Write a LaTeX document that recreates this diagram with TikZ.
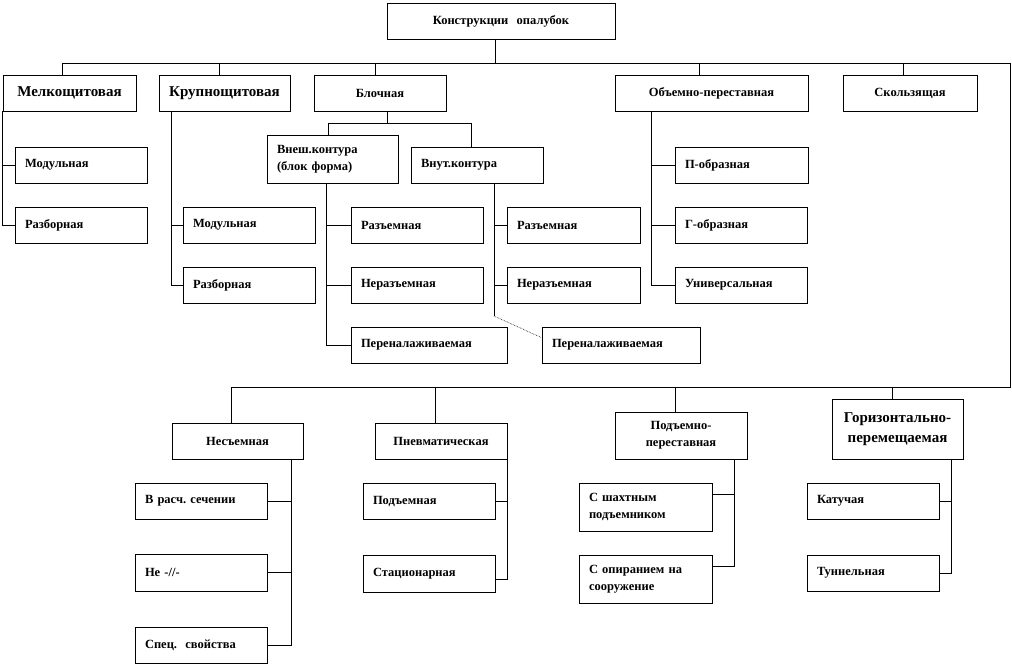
\documentclass[tikz,border=0pt]{standalone}
\usepackage{fontspec}
\setmainfont{Liberation Serif}
\usetikzlibrary{calc}
\frenchspacing
\tikzset{
  bx/.style={draw, line width=0.6pt, inner xsep=10pt, inner ysep=1pt, font=\bfseries\fontsize{12.5}{17}\selectfont},
  cbx/.style={bx, align=center},
  lbx/.style={bx, align=left},
  bigc/.style={bx, align=center, font=\bfseries\fontsize{15}{20}\selectfont},
  ln/.style={line width=0.6pt},
}
\newcommand{\mkbox}[7]{\pgfmathsetmacro{\mkw}{#5-#3-20}\pgfmathsetmacro{\mkh}{#6-#4}\node[#1, text width=\mkw pt, minimum height=\mkh pt] (#2) at ({(#3+#5)/2},{(#4+#6)/2}) {#7};}
\begin{document}
\begin{tikzpicture}[x=1pt,y=-1pt]
\useasboundingbox (0,0) rectangle (1012,666);
% top
\mkbox{cbx}{top}{387}{3}{615}{39}{Конструкции\ \ опалубок}
% row 1
\mkbox{bigc}{melk}{3}{75}{136}{111}{Мелкощитовая}
\mkbox{bigc}{krup}{159}{75}{290}{111}{Крупнощитовая}
\mkbox{cbx}{bloch}{314}{75}{446}{111}{Блочная}
\mkbox{cbx}{obem}{615}{75}{808}{111}{Объемно-переставная}
\mkbox{cbx}{skol}{843}{75}{977}{111}{Скользящая}
% melk children
\mkbox{lbx}{mod1}{15}{147}{147}{183}{Модульная}
\mkbox{lbx}{razb1}{15}{207}{147}{243}{Разборная}
% krup children
\mkbox{lbx}{mod2}{183}{207}{315}{243}{Модульная}
\mkbox{lbx}{razb2}{183}{267}{315}{303}{Разборная}
% bloch children
\mkbox{lbx}{vnesh}{267}{135}{398}{183}{Внеш.контура\\(блок форма)}
\mkbox{lbx}{vnut}{411}{147}{543}{183}{Внут.контура}
\mkbox{lbx}{raz1}{351}{207}{483}{243}{Разъемная}
\mkbox{lbx}{neraz1}{351}{267}{483}{303}{Неразъемная}
\mkbox{lbx}{pere1}{351}{327}{507}{363}{Переналаживаемая}
\mkbox{lbx}{raz2}{507}{207}{640}{243}{Разъемная}
\mkbox{lbx}{neraz2}{507}{267}{640}{303}{Неразъемная}
\mkbox{lbx}{pere2}{542}{327}{700}{363}{Переналаживаемая}
% obem children
\mkbox{lbx}{pobr}{675}{147}{808}{183}{П-образная}
\mkbox{lbx}{gobr}{675}{207}{807}{243}{Г-образная}
\mkbox{lbx}{univ}{675}{267}{807}{303}{Универсальная}
% bottom row
\mkbox{cbx}{nesm}{172}{423}{303}{459}{Несъемная}
\mkbox{cbx}{pnev}{375}{423}{507}{459}{Пневматическая}
\mkbox{cbx}{podp}{615}{412}{747}{459}{Подъемно-\\переставная}
\mkbox{bigc}{gor}{832}{399}{963}{459}{Горизонтально-\\перемещаемая}
% bottom children
\mkbox{lbx}{vrasch}{135}{483}{267}{519}{В расч. сечении}
\mkbox{lbx}{ne}{135}{554}{267}{591}{Не -//-}
\mkbox{lbx}{spec}{135}{627}{267}{663}{Спец.\ \ свойства}
\mkbox{lbx}{podem}{363}{483}{495}{519}{Подъемная}
\mkbox{lbx}{stac}{363}{555}{495}{592}{Стационарная}
\mkbox{lbx}{shakht}{579}{483}{712}{531}{С шахтным\\подъемником}
\mkbox{lbx}{opir}{579}{555}{712}{603}{С опиранием на\\сооружение}
\mkbox{lbx}{katuch}{807}{483}{939}{519}{Катучая}
\mkbox{lbx}{tunn}{807}{555}{939}{591}{Туннельная}
% buses
\coordinate (bl) at (62,63);
\coordinate (br) at (1010,63);
\coordinate (cr) at (1010,387);
\coordinate (cl) at (231,387);
\coordinate (tstem) at (495,39);
\draw[ln] (tstem) -- (tstem |- bl);
\draw[ln] (bl) -- (br) -- (cr) -- (cl);
% drops row 1
\coordinate (d2) at (219,63);
\coordinate (d3) at (375,63);
\coordinate (d4) at (699,63);
\coordinate (d5) at (903,63);
\draw[ln] (bl) -- (bl |- melk.north);
\draw[ln] (d2) -- (d2 |- krup.north);
\draw[ln] (d3) -- (d3 |- bloch.north);
\draw[ln] (d4) -- (d4 |- obem.north);
\draw[ln] (d5) -- (d5 |- skol.north);
% melk
\draw[ln] (melk.south west) |- (razb1.west);
\draw[ln] (melk.south west |- mod1.west) -- (mod1.west);
% krup
\coordinate (kv) at (171,111);
\draw[ln] (kv) |- (razb2.west);
\draw[ln] (kv |- mod2.west) -- (mod2.west);
% bloch
\coordinate (bs) at (387,111);
\coordinate (hl) at (328,123);
\coordinate (hr) at (471,123);
\draw[ln] (bs) -- (bs |- hl);
\draw[ln] (hl |- vnesh.north) -- (hl) -- (hr) -- (hr |- vnut.north);
\coordinate (ev) at (326,183);
\draw[ln] (ev) |- (pere1.west);
\draw[ln] (ev |- raz1.west) -- (raz1.west);
\draw[ln] (ev |- neraz1.west) -- (neraz1.west);
\coordinate (uv) at (494,183);
\coordinate (uk) at (494,316);
\draw[ln] (uv) -- (uk);
\draw[line width=0.6pt, densely dotted] (uk) -- ($(pere2.north west)+(0,11)$);
\draw[ln] (uv |- raz2.west) -- (raz2.west);
\draw[ln] (uv |- neraz2.west) -- (neraz2.west);
% obem
\coordinate (ov) at (651,111);
\draw[ln] (ov) |- (univ.west);
\draw[ln] (ov |- pobr.west) -- (pobr.west);
\draw[ln] (ov |- gobr.west) -- (gobr.west);
% bottom drops
\coordinate (e2) at (435,387);
\coordinate (e3) at (675,387);
\coordinate (e4) at (892,387);
\draw[ln] (cl) -- (cl |- nesm.north);
\draw[ln] (e2) -- (e2 |- pnev.north);
\draw[ln] (e3) -- (e3 |- podp.north);
\draw[ln] (e4) -- (e4 |- gor.north);
% bottom children
\coordinate (nv) at (291,459);
\draw[ln] (nv) |- (spec.east);
\draw[ln] (nv |- vrasch.east) -- (vrasch.east);
\draw[ln] (nv |- ne.east) -- (ne.east);
\coordinate (pv) at (507,459);
\draw[ln] (pv) |- ($(stac.south east)+(0,-13)$);
\draw[ln] (pv |- podem.east) -- (podem.east);
\coordinate (qv) at (734,459);
\draw[ln] (qv) |- ($(opir.north east)+(0,12)$);
\coordinate (sh) at ($(shakht.north east)+(0,12)$);
\draw[ln] (qv |- sh) -- (sh);
\coordinate (gv) at (951,459);
\draw[ln] (gv) |- (tunn.east);
\draw[ln] (gv |- katuch.east) -- (katuch.east);
\end{tikzpicture}
\end{document}
